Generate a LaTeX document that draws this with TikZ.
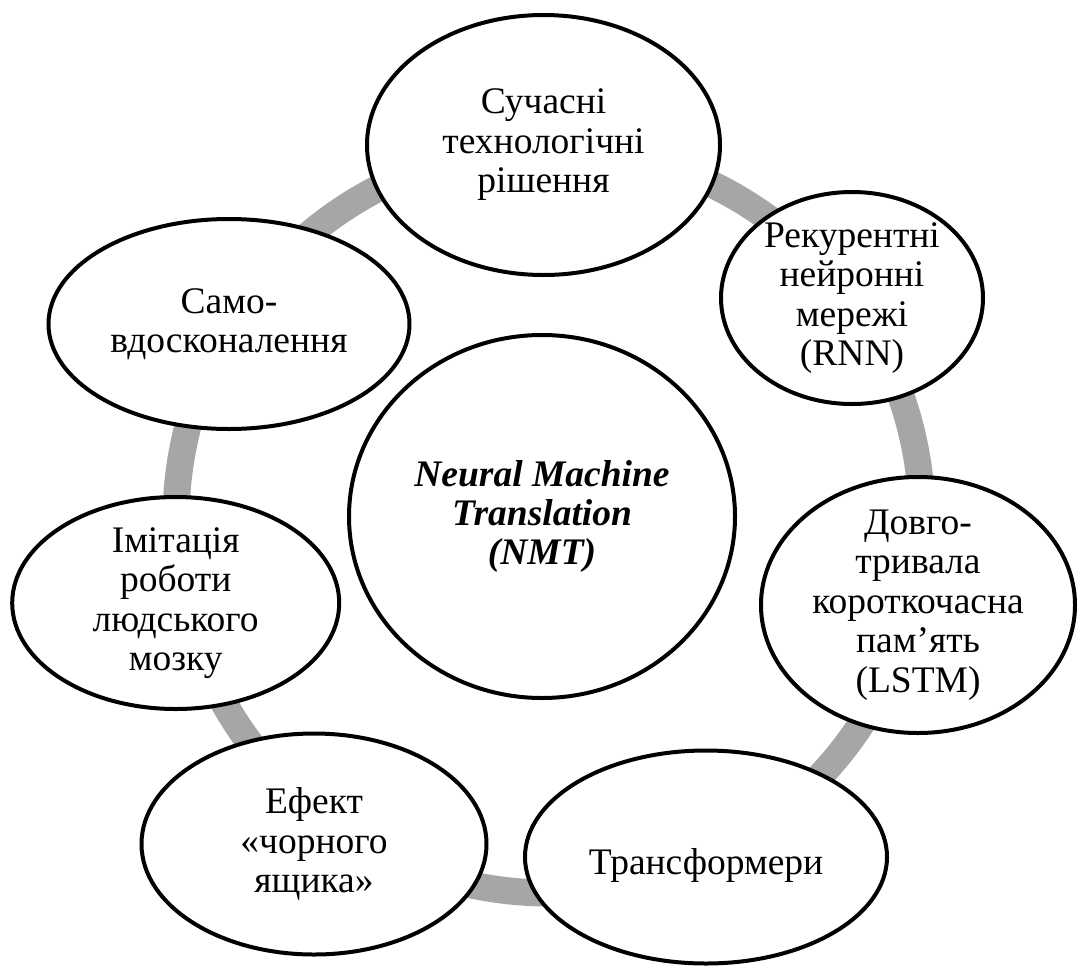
\documentclass[tikz,border=0pt]{standalone}
\usepackage{fontspec}
\setmainfont{Liberation Serif}
\usetikzlibrary{shapes.geometric}
\definecolor{ringgray}{HTML}{A6A6A6}
\begin{document}
\begin{tikzpicture}[x=1pt,y=-1pt,
  bubble/.style={ellipse, draw=black, line width=4pt, fill=white, inner sep=0pt},
  txt/.style={inner sep=0pt, align=center, font=\fontsize{37.5}{39.5}\selectfont},
  ringline/.style={draw=ringgray, line width=27pt}]
\useasboundingbox (0,0) rectangle (1078,969);
\coordinate (ringc) at (549,520);
\draw[ringline] (ringc) circle[radius=373pt];

\node[bubble, minimum width=353pt, minimum height=260pt] (top) at (543.5,145) {};
\node[txt] (toptext) at (top) {Сучасні\\технологічні\\рішення};

\node[bubble, minimum width=262pt, minimum height=212pt] (rnn) at (852,298) {};
\node[txt] (rnntext) at (rnn) {Рекурентні\\нейронні\\мережі\\(RNN)};

\node[bubble, minimum width=314pt, minimum height=256pt] (lstm) at (918,605) {};
\node[txt] (lstmtext) at (lstm) {Довго-\\тривала\\короткочасна\\пам’ять\\(LSTM)};

\node[bubble, minimum width=362pt, minimum height=213pt] (trans) at (706,857) {};
\node[txt, yshift=-8pt] (transtext) at (trans) {Трансформери};

\node[bubble, minimum width=345pt, minimum height=221pt] (effect) at (314,844) {};
\node[txt] (effecttext) at (effect) {Ефект\\«чорного\\ящика»};

\node[bubble, minimum width=327pt, minimum height=212pt] (imit) at (175.7,603) {};
\node[txt] (imittext) at (imit) {Імітація\\роботи\\людського\\мозку};

\node[bubble, minimum width=361pt, minimum height=210pt] (samo) at (229,324) {};
\node[txt] (samotext) at (samo) {Само-\\вдосконалення};

\node[bubble, minimum width=386pt, minimum height=363pt] (nmt) at (542,516.5) {};
\node[txt, font=\fontsize{37.5}{38.8}\selectfont\bfseries\itshape] (nmttext) at (nmt) {Neural Machine\\Translation\\(NMT)};
\end{tikzpicture}
\end{document}
